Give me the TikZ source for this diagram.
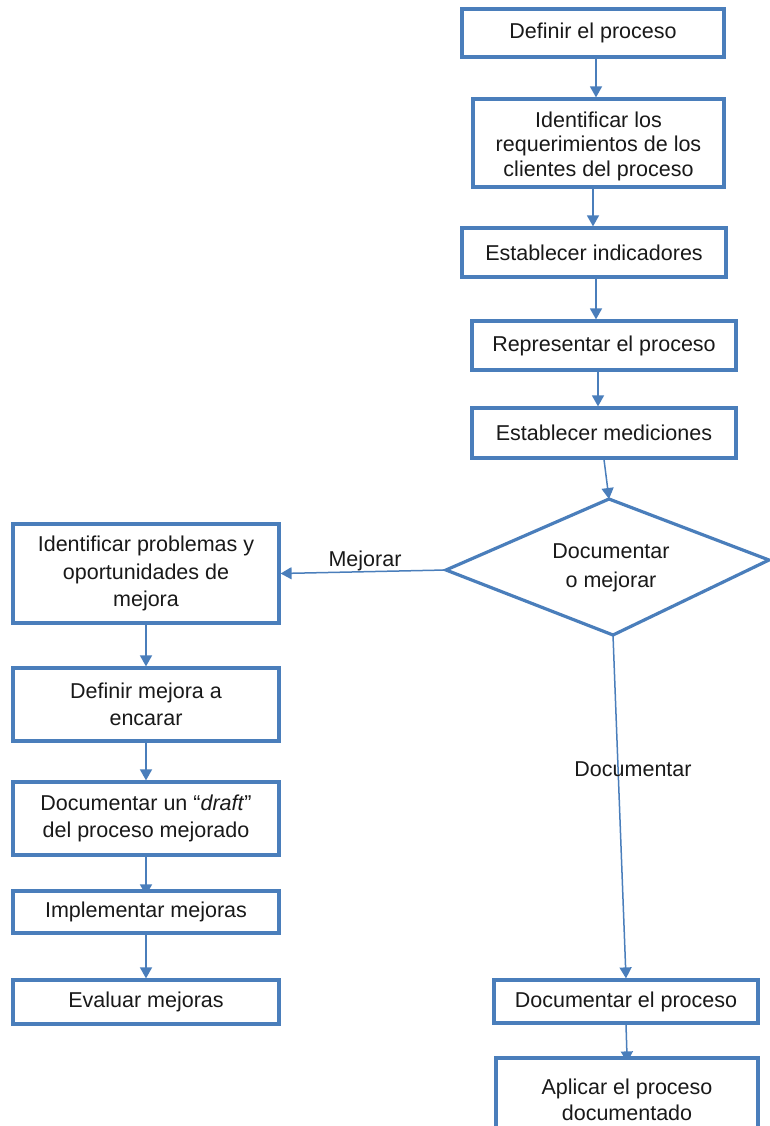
\documentclass[tikz,border=0pt]{standalone}
\usepackage{fontspec}
\setmainfont{Liberation Sans}
\usetikzlibrary{arrows.meta,backgrounds}
\definecolor{flowblue}{HTML}{4A7EBB}
\begin{document}
\begin{tikzpicture}[x=1pt,y=-1pt,
  font=\fontsize{21.5}{27}\selectfont,
  stepbox/.style={draw=flowblue,line width=3.2pt,fill=white,inner sep=0pt,
    align=center,text=black!90},
  flowarr/.style={draw=flowblue,line width=1.5pt,-{Triangle[length=11pt,width=12pt]}},
  tag/.style={inner sep=1pt,text=black!90}]
\useasboundingbox (0,0) rectangle (770,1126);

% main process column
\node[stepbox,minimum width=262pt,minimum height=48pt] (b1) at (593,33) {Definir el proceso};
\node[stepbox,minimum width=251pt,minimum height=88pt,
  font=\fontsize{21.5}{24.5}\selectfont] (b2) at (598.5,143) {\rule{0pt}{22pt}Identificar los\\requerimientos de los\\clientes del proceso};
\node[stepbox,minimum width=264pt,minimum height=49pt] (b3) at (594,252.5) {Establecer indicadores};
\node[stepbox,minimum width=264pt,minimum height=49pt] (b4) at (604,345.5) {Representar el proceso};
\node[stepbox,minimum width=264pt,minimum height=50pt] (b5) at (604,433) {Establecer mediciones};

% decision
\coordinate (dT) at (609,499);
\coordinate (dR) at (769,560);
\coordinate (dB) at (613,635);
\coordinate (dL) at (446,570);
\draw[flowblue,line width=3.2pt,fill=white] (dT) -- (dR) -- (dB) -- (dL) -- cycle;
\node[tag,align=center,font=\fontsize{21.5}{29}\selectfont] (dtext) at (611,568) {Documentar\\o mejorar};

% improvement branch
\node[stepbox,minimum width=266pt,minimum height=99pt,
  font=\fontsize{21.5}{27.5}\selectfont] (b7) at (146,573.5) {Identificar problemas y\\oportunidades de\\mejora};
\node[stepbox,minimum width=266pt,minimum height=73pt] (b8) at (146,704.5) {Definir mejora a\\encarar};
\node[stepbox,minimum width=266pt,minimum height=73pt] (b9) at (146,818.5) {Documentar un ``\textit{draft}''\\del proceso mejorado};
\node[stepbox,minimum width=266pt,minimum height=42pt] (b10) at (146,912) {Implementar mejoras};
\node[stepbox,minimum width=266pt,minimum height=44pt] (b11) at (146,1002) {Evaluar mejoras};

% documentation branch
\node[stepbox,minimum width=264pt,minimum height=43pt] (b12) at (626,1001.5) {Documentar el proceso};
\node[stepbox,minimum width=262pt,minimum height=84pt,
  font=\fontsize{21.5}{26}\selectfont] (b13) at (627,1100) {Aplicar el proceso\\documentado};

% connectors
\draw[flowarr] (596,0 |- b1.south) -- (596,0 |- b2.north);
\draw[flowarr] (593,0 |- b2.south) -- (593,0 |- b3.north);
\draw[flowarr] (596,0 |- b3.south) -- (596,0 |- b4.north);
\draw[flowarr] (598,0 |- b4.south) -- (598,0 |- b5.north);
\draw[flowarr] (b5.south) -- (dT);
\draw[flowarr] (dL) -- (b7.east);
\draw[flowarr] (dB) -- (b12.north);
\draw[flowarr] (b7.south) -- (b8.north);
\draw[flowarr] (b8.south) -- (b9.north);
\draw[flowarr] (b10.south) -- (b11.north);
\begin{scope}[on background layer]
  \draw[flowarr,shorten >=-6pt] (b9.south) -- (b10.north);
  \draw[flowarr,shorten >=-6pt] (b12.south) -- (b13.north);
\end{scope}

% branch labels
\node[tag] (lmej) at (365,561) {Mejorar};
\node[tag] (ldoc) at (633,769) {Documentar};
\end{tikzpicture}
\end{document}
